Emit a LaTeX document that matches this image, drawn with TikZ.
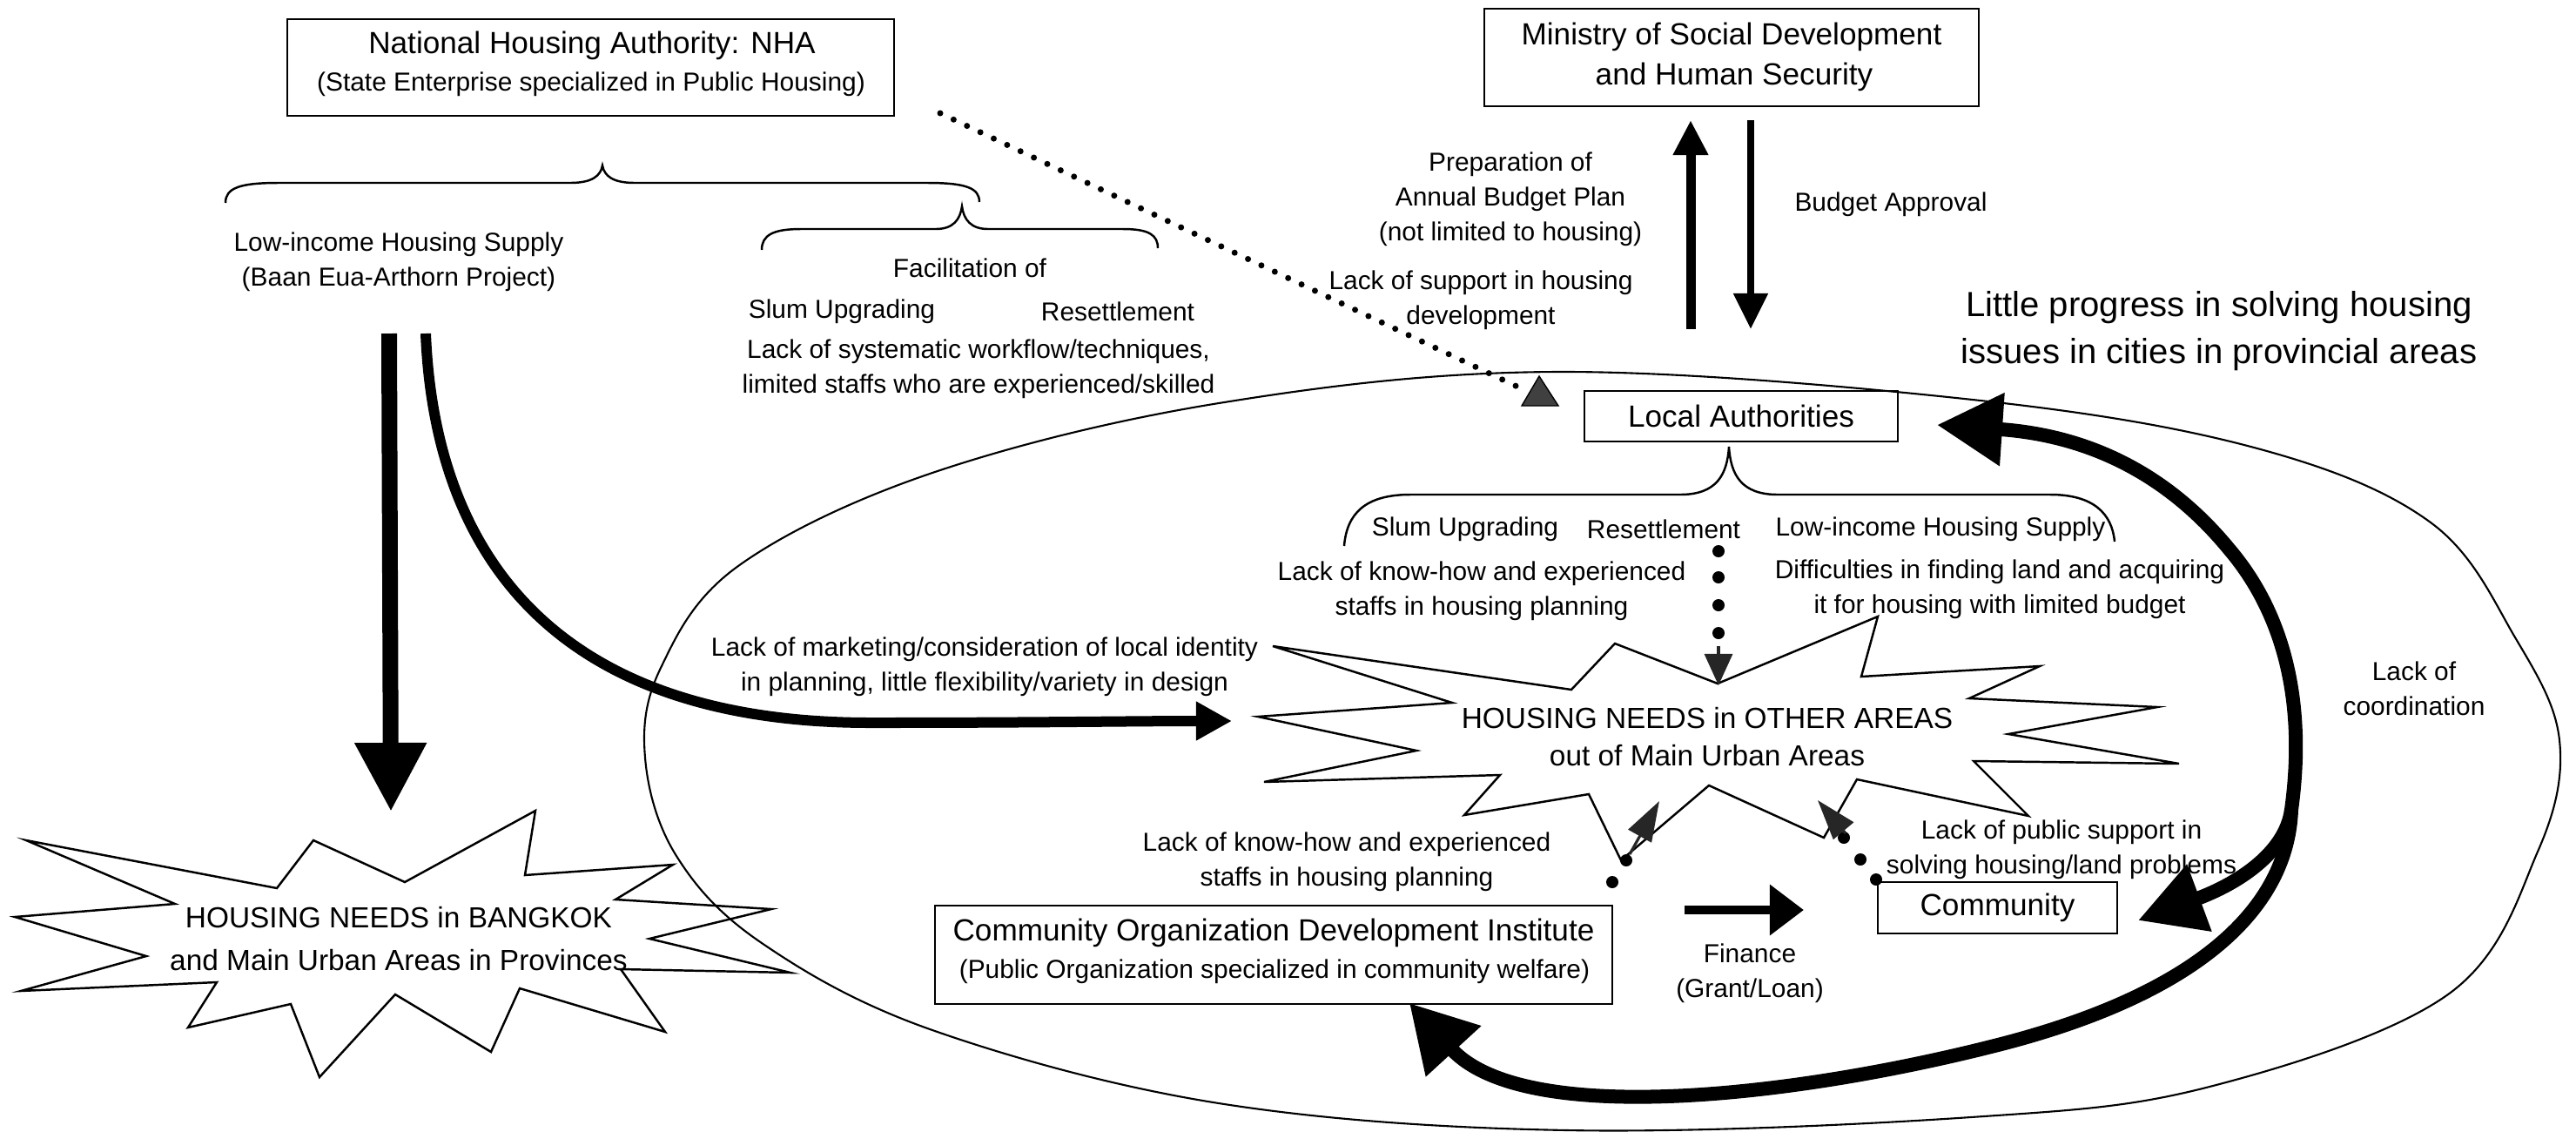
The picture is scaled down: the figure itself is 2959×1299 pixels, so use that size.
\documentclass[tikz,border=0pt]{standalone}
\usepackage{fontspec}
\setmainfont{Liberation Sans}
\usetikzlibrary{arrows.meta,calc}
\begin{document}
\begin{tikzpicture}[x=0.01cm,y=-0.01cm,
  box/.style={draw,line width=0.7pt,inner sep=0pt},
  txt/.style={font=\fontsize{8.5}{11.4}\selectfont,align=center,inner sep=0pt},
  ttl/.style={font=\fontsize{10}{13}\selectfont,align=center,inner sep=0pt},
  burst/.style={font=\fontsize{9.5}{12}\selectfont,align=center,inner sep=0pt},
  thinline/.style={line width=0.7pt,line join=miter},
  heavy/.style={line width=0.16cm},
  dhead/.style={line width=0.9pt,gray!30!black}]
\fill[white] (0,0) rectangle (2959,1299);
\useasboundingbox (0,0) rectangle (2959,1299);

% big ellipse
\draw[line width=0.6pt] plot[smooth cycle,tension=0.6] coordinates {
 (1400,463) (1790,427) (2275,460) (2593,515) (2792,600) (2889,732) (2940,850)
 (2915,978) (2812,1142) (2538,1248) (2264,1283) (1800,1298) (1400,1267)
 (1071,1183) (875,1083) (777,983) (741,870) (759,767) (848,650) (1071,543)};

% boxes
\node[box,minimum width=6.97cm,minimum height=1.11cm] (nha) at (678.5,77.5) {};
\node[ttl] (nhaA) at (680,52) {National Housing Authority: NHA};
\node[txt] (nhaB) at (679,97) {(State Enterprise specialized in Public Housing)};

\node[box,minimum width=5.68cm,minimum height=1.12cm] (msd) at (1989,66) {};
\node[ttl] (msdA) at (1989,42) {Ministry of Social Development};
\node[ttl] (msdB) at (1992,88) {and Human Security};

\node[box,ttl,minimum width=3.6cm,minimum height=0.58cm] (la) at (2000,478) {Local Authorities};
\node[box,ttl,minimum width=2.75cm,minimum height=0.59cm] (com) at (2294.5,1042.5) {Community};

\node[box,minimum width=7.78cm,minimum height=1.13cm] (codi) at (1463,1096.5) {};
\node[ttl] (codiA) at (1463,1071) {Community Organization Development Institute};
\node[txt] (codiB) at (1464,1116) {(Public Organization specialized in community welfare)};

% braces
\draw[thinline] (259,233) .. controls (259,216) and (275,210) .. (320,210) -- (655,210)
  .. controls (680,210) and (690,202) .. (692,190) .. controls (694,202) and (704,210) .. (729,210)
  -- (1065,210) .. controls (1110,210) and (1125,216) .. (1125,232);
\draw[thinline] (875,287) .. controls (875,270) and (888,263) .. (920,263) -- (1075,263)
  .. controls (1095,263) and (1103,252) .. (1105,237) .. controls (1107,252) and (1115,263) .. (1135,263)
  -- (1290,263) .. controls (1320,263) and (1330,270) .. (1330,285);
\draw[thinline] (1544,627) .. controls (1547,590) and (1568,568) .. (1620,568) -- (1930,568)
  .. controls (1972,568) and (1984,545) .. (1986,513) .. controls (1988,545) and (2000,568) .. (2042,568)
  -- (2355,568) .. controls (2405,568) and (2426,590) .. (2429,622);

% texts
\node[txt] (lowinc) at (458,301) {Low-income Housing Supply\\(Baan Eua-Arthorn Project)};
\node[txt] (facil) at (1114,308) {Facilitation of};
\node[txt] (slumA) at (967,358) {Slum Upgrading};
\node[txt] (resA) at (1284,358) {Resettlement};
\node[txt] (lacksys) at (1124,424) {Lack of systematic workflow/techniques,\\limited staffs who are experienced/skilled};
\node[txt] (support) at (1701,345) {Lack of support in housing\\development};
\node[txt] (prep) at (1735,229) {Preparation of\\Annual Budget Plan\\(not limited to housing)};
\node[txt] (budget) at (2172,235) {Budget Approval};
\node[font=\fontsize{11.4}{15.4}\selectfont,align=center,inner sep=0pt] (little) at (2549,380)
  {Little progress in solving housing\\issues in cities in provincial areas};
\node[txt] (slumB) at (1683,608) {Slum Upgrading};
\node[txt] (resB) at (1911,608) {Resettlement};
\node[txt] (lowincB) at (2229,608) {Low-income Housing Supply};
\node[txt] (knowA) at (1702,679) {Lack of know-how and experienced\\staffs in housing planning};
\node[txt] (diffic) at (2297,677) {Difficulties in finding land and acquiring\\it for housing with limited budget};
\node[txt] (market) at (1131,766) {Lack of marketing/consideration of local identity\\in planning, little flexibility/variety in design};
\node[txt] (knowB) at (1547,990) {Lack of know-how and experienced\\staffs in housing planning};
\node[txt] (finance) at (2010,1118) {Finance\\(Grant/Loan)};
\node[txt] (public) at (2368,976) {Lack of public support in\\solving housing/land problems};
\node[txt] (coord) at (2773,791) {Lack of\\coordination};

% starbursts
\draw[thinline] (1462,742) -- (1805,792) -- (1855,739) -- (1973,785) -- (2157,708) -- (2138,777)
 -- (2343,765) -- (2262,802) -- (2478,812) -- (2307,843) -- (2503,877) -- (2267,874) -- (2330,937)
 -- (2133,895) -- (2095,962) -- (1963,902) -- (1862,988) -- (1825,912) -- (1682,936) -- (1723,890)
 -- (1452,898) -- (1627,862) -- (1445,823) -- (1668,807) -- cycle;
\node[burst] (other) at (1961,846) {HOUSING NEEDS in OTHER AREAS\\out of Main Urban Areas};

\draw[thinline] (30,965) -- (318,1020) -- (360,965) -- (465,1013) -- (615,931) -- (603,1005)
 -- (773,993) -- (707,1033) -- (886,1044) -- (746,1078) -- (908,1117) -- (713,1113) -- (764,1185)
 -- (597,1135) -- (564,1208) -- (454,1142) -- (367,1237) -- (334,1153) -- (216,1180) -- (249,1128)
 -- (24,1138) -- (168,1098) -- (17,1053) -- (201,1038) -- cycle;
\node[font=\fontsize{9.5}{14}\selectfont,align=center,inner sep=0pt] (bkk) at (458,1078)
  {HOUSING NEEDS in BANGKOK\\and Main Urban Areas in Provinces};

% coordinates
\coordinate (bk0) at (447,383);
\coordinate (bk1) at (449,932);
\coordinate (mk0) at (489,383);
\coordinate (mk1) at (1415,828);
\coordinate (up0) at (1942,378);
\coordinate (up1) at (1942,138);
\coordinate (dn0) at (2011,138);
\coordinate (dn1) at (2011,378);
\coordinate (fi0) at (1935,1045);
\coordinate (fi1) at (2072,1045);
\coordinate (nd0) at (1080,130);
\coordinate (nd1) at (1745,445);
\coordinate (fk) at (2632,930);
\coordinate (laTip) at (2225,488);
\coordinate (comTip) at (2456,1057);
\coordinate (codiTip) at (1619,1152);

% main arrows
\draw[line width=0.18cm,-{Triangle[length=0.79cm,width=0.78cm]}] (bk0) -- (bk1);
\draw[line width=0.12cm,-{Triangle[length=0.41cm,width=0.42cm]}] (mk0)
  .. controls (500,650) and (650,830) .. (1000,830) .. controls (1200,830) and (1300,828) .. (mk1);
\draw[line width=0.11cm,-{Triangle[length=0.40cm,width=0.38cm]}] (up0) -- (up1);
\draw[line width=0.08cm,-{Triangle[length=0.41cm,width=0.38cm]}] (dn0) -- (dn1);
\draw[line width=0.10cm,-{Triangle[length=0.39cm,width=0.56cm]}] (fi0) -- (fi1);

% dotted line from NHA
\draw[line width=0.07cm,line cap=round,dash pattern=on 0pt off 0.17cm] (nd0) -- (nd1);
\filldraw[fill=gray!50!black,draw=black,line width=0.4pt] (1768,432) -- (1790,466) -- (1748,466) -- cycle;

% dotted arrow: local authorities -> other areas
\foreach \yy in {633,663,695,727} \fill (1974,\yy) circle[radius=0.07cm];
\draw[dhead,-{Triangle[length=0.36cm,width=0.32cm]}] (1974,742) -- (1974,787);

% dotted arrow: CODI -> other areas
\fill (1852,1013) circle[radius=0.07cm];
\fill (1868,988) circle[radius=0.07cm];
\draw[dhead,-{Triangle[length=0.46cm,width=0.30cm]}] (1872,981) -- (1906,920);

% dotted arrow: community -> other areas
\fill (2155,1010) circle[radius=0.07cm];
\fill (2137,987) circle[radius=0.07cm];
\fill (2118,962) circle[radius=0.07cm];
\draw[dhead,-{Triangle[length=0.46cm,width=0.30cm]}] (2120,957) -- (2088,919);

% heavy coordination arrows
\draw[heavy,{Triangle[length=0.75cm,width=0.8cm]}-{Triangle[length=0.75cm,width=0.78cm]}] (laTip)
  .. controls (2400,500) and (2490,545) .. (2560,630)
  .. controls (2620,700) and (2650,800) .. (fk)
  .. controls (2625,980) and (2570,1015) .. (comTip);
\draw[heavy,-{Triangle[length=0.75cm,width=0.82cm]}] (fk)
  .. controls (2628,1040) and (2530,1140) .. (2295,1200)
  .. controls (2060,1260) and (1750,1295) .. (codiTip);
\end{tikzpicture}
\end{document}
